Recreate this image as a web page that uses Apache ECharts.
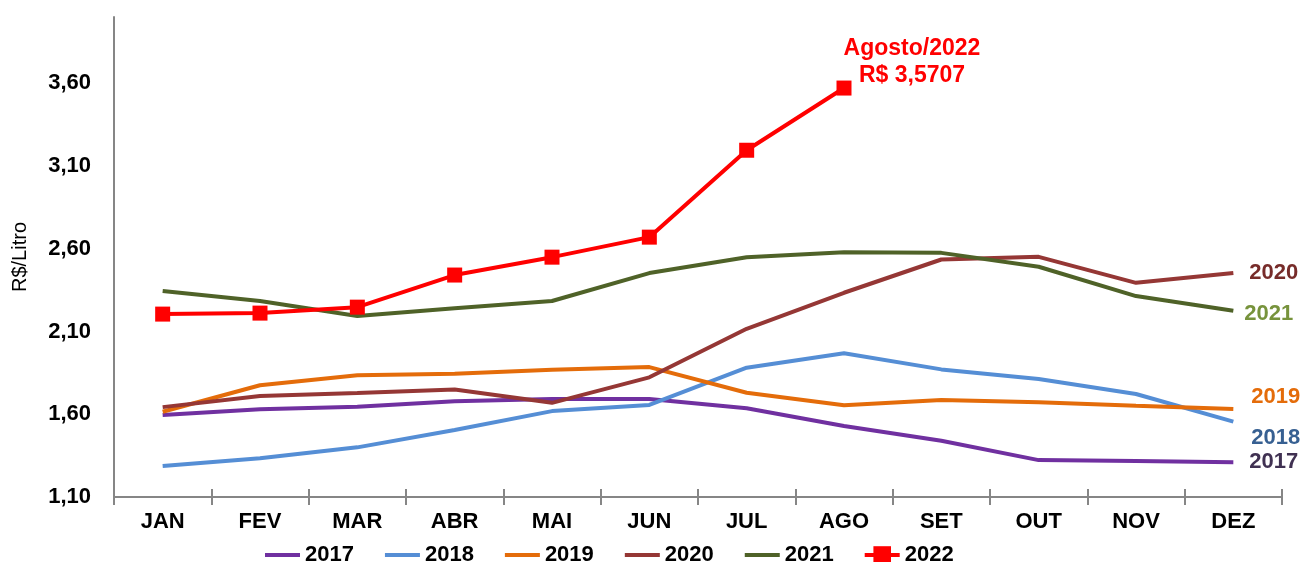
<!DOCTYPE html>
<html>
<head>
<meta charset="utf-8">
<script src="https://cdn.jsdelivr.net/npm/echarts@6/dist/echarts.min.js"></script>
<style>html,body{margin:0;padding:0;background:#fff}#c{width:1309px;height:562px}</style>
</head>
<body>
<div id="c"></div>
<script>
const months = ['JAN','FEV','MAR','ABR','MAI','JUN','JUL','AGO','SET','OUT','NOV','DEZ'];
const yTicks = [1.10, 1.60, 2.10, 2.60, 3.10, 3.60];
const yMin = 1.10, yMax = 4.00;
const yName = 'R$/Litro';

const v2017 = [1.595, 1.630, 1.645, 1.678, 1.692, 1.692, 1.636, 1.529, 1.440, 1.323, 1.317, 1.310];
const v2018 = [1.287, 1.334, 1.400, 1.505, 1.619, 1.656, 1.881, 1.968, 1.871, 1.813, 1.722, 1.555];
const v2019 = [1.615, 1.775, 1.835, 1.845, 1.869, 1.885, 1.730, 1.654, 1.686, 1.672, 1.651, 1.631];
const v2020 = [1.643, 1.710, 1.728, 1.750, 1.669, 1.823, 2.116, 2.334, 2.535, 2.551, 2.394, 2.454];
const v2021 = [2.344, 2.284, 2.193, 2.241, 2.284, 2.453, 2.549, 2.579, 2.575, 2.491, 2.314, 2.225];
const v2022 = [2.205, 2.211, 2.247, 2.441, 2.549, 2.670, 3.195, 3.5707];
const annotationText = 'Agosto/2022\nR$ 3,5707';

const FONT = '"Liberation Sans", Arial, sans-serif';
const chart = echarts.init(document.getElementById('c'));

function lineSeries(name, data, color, labelColor, offset) {
  return {
    name: name, type: 'line', data: data,
    symbol: 'none', showSymbol: false,
    lineStyle: { color: color, width: 4 },
    itemStyle: { color: color },
    endLabel: {
      show: true, formatter: name, color: labelColor,
      fontFamily: FONT, fontWeight: 'bold', fontSize: 22,
      distance: 5, offset: offset
    },
    animation: false
  };
}

const v2022data = v2022.map((v, i) => i === v2022.length - 1 ? {
  value: v,
  label: {
    show: true, position: 'top', formatter: annotationText,
    color: '#ff0000', fontFamily: FONT, fontWeight: 'bold', fontSize: 23,
    lineHeight: 27, align: 'center', offset: [68, 14]
  }
} : v);

const plainLegend = name => ({ name: name, itemStyle: { opacity: 0 }, lineStyle: { width: 4 } });

chart.setOption({
  backgroundColor: '#ffffff',
  animation: false,
  grid: { left: 114, right: 27, top: 17, bottom: 65, containLabel: false },
  legend: {
    left: 258, top: 539, itemWidth: 35, itemHeight: 22, itemGap: 29,
    textStyle: { fontFamily: FONT, fontWeight: 'bold', fontSize: 22, color: '#000' },
    data: [plainLegend('2017'), plainLegend('2018'), plainLegend('2019'),
           plainLegend('2020'), plainLegend('2021'), { name: '2022', lineStyle: { width: 4 } }]
  },
  xAxis: [{
    type: 'category', data: months, boundaryGap: true,
    axisLine: { lineStyle: { color: '#868686', width: 2 } },
    axisTick: { show: true, length: 8, lineStyle: { color: '#868686', width: 2 } },
    axisLabel: { color: '#000', fontFamily: FONT, fontWeight: 'bold', fontSize: 22, margin: 14 },
    splitLine: { show: false }
  }, {
    type: 'category', data: months, boundaryGap: true, position: 'bottom', offset: 0,
    axisLine: { show: false },
    axisTick: { show: true, inside: true, length: 8, lineStyle: { color: '#868686', width: 2 } },
    axisLabel: { show: false },
    splitLine: { show: false }
  }],
  yAxis: {
    type: 'value', min: yMin, max: yMax,
    name: yName, nameLocation: 'middle', nameGap: 84, nameRotate: 90,
    nameTextStyle: { fontFamily: FONT, fontSize: 20, color: '#000' },
    axisLine: { show: true, lineStyle: { color: '#868686', width: 2 } },
    axisTick: { show: false },
    splitLine: { show: false },
    axisLabel: {
      customValues: yTicks,
      color: '#000', fontFamily: FONT, fontWeight: 'bold', fontSize: 22, margin: 23,
      formatter: v => v.toFixed(2).replace('.', ',')
    }
  },
  series: [
    lineSeries('2017', v2017, '#7030a0', '#403152', [11, 0]),
    lineSeries('2018', v2018, '#558ed5', '#376092', [13, 16]),
    lineSeries('2019', v2019, '#e46c0a', '#e46c0a', [13, -12]),
    lineSeries('2020', v2020, '#953735', '#772c2a', [11, 0]),
    lineSeries('2021', v2021, '#4f6228', '#77933c', [6, 3]),
    {
      name: '2022', type: 'line', data: v2022data,
      symbol: 'rect', symbolSize: 15, showSymbol: true,
      lineStyle: { color: '#ff0000', width: 4 },
      itemStyle: { color: '#ff0000' },
      z: 5, animation: false
    }
  ]
});
</script>
</body>
</html>
